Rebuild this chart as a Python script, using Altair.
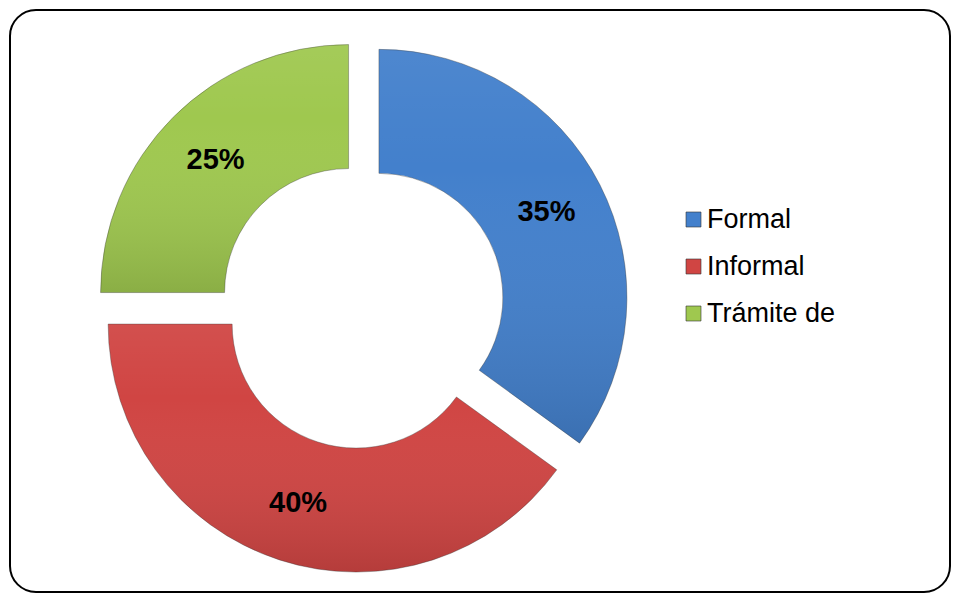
import altair as alt
import pandas as pd

# ---- data ----
categories = ["Formal", "Informal", "Trámite de"]
values = [35, 40, 25]
labels = ["35%", "40%", "25%"]
order = [0, 1, 2]
colors = ["#4380cc", "#d04543", "#9fc84f"]

df = pd.DataFrame({"cat": categories, "value": values, "label": labels, "order": order})

# ---- layout constants (pixels in the view) ----
CX, CY, D = 352, 296, 19          # pie centre and explode distance
R_OUT, R_IN, R_LAB = 248, 124, 188

base = (
    alt.Chart(df)
    .transform_window(cum="sum(value)", sort=[alt.SortField("order")], frame=[None, 0])
    .transform_joinaggregate(total="sum(value)")
    .transform_calculate(
        t1="2*PI*(datum.cum - datum.value)/datum.total",
        t2="2*PI*datum.cum/datum.total",
    )
    .transform_calculate(mid="(datum.t1 + datum.t2)/2")
    .transform_calculate(
        cx=f"{CX} + {D}*sin(datum.mid)",
        cy=f"{CY} - {D}*cos(datum.mid)",
        lx=f"{CX} + {D + R_LAB}*sin(datum.mid)",
        ly=f"{CY} - {D + R_LAB}*cos(datum.mid)",
    )
)

enc = dict(
    x=alt.X("cx:Q", scale=None, axis=None),
    y=alt.Y("cy:Q", scale=None, axis=None),
    theta=alt.Theta("t1:Q", scale=None, stack=None),
    theta2="t2:Q",
)

arcs = base.mark_arc(
    radius=R_OUT, radius2=R_IN, stroke="#333333", strokeWidth=0.8, strokeOpacity=0.45
).encode(
    color=alt.Color(
        "cat:N",
        scale=alt.Scale(domain=categories, range=colors),
        sort=categories,
        legend=alt.Legend(
            title=None,
            orient="none",
            legendX=670,
            legendY=196,
            symbolType="square",
            symbolSize=225,
            symbolStrokeWidth=0.6,
            symbolStrokeColor="#333333",
            labelFontSize=27,
            labelFont="Liberation Sans",
            labelColor="black",
            labelOffset=0,
            rowPadding=19,
            labelLimit=300,
        ),
    ),
    **enc,
)

shade = base.mark_arc(
    radius=R_OUT,
    radius2=R_IN,
    fill=alt.LinearGradient(
        gradient="linear",
        stops=[
            alt.GradientStop(color="rgba(255,255,255,0.06)", offset=0),
            alt.GradientStop(color="rgba(255,255,255,0.0)", offset=0.3),
            alt.GradientStop(color="rgba(0,0,0,0.13)", offset=1),
        ],
        x1=0, y1=0, x2=0, y2=1,
    ),
).encode(**enc)

text = base.mark_text(
    fontSize=29, fontWeight="bold", font="Liberation Sans", color="black", align="center", baseline="middle"
).encode(
    x=alt.X("lx:Q", scale=None, axis=None),
    y=alt.Y("ly:Q", scale=None, axis=None),
    text="label:N",
)

chart = (
    alt.layer(arcs, shade, text)
    .properties(
        width=940,
        height=582,
        background="white",
        autosize=alt.AutoSizeParams(type="none"),
        padding={"left": 2, "top": 2, "right": 1, "bottom": 1},
    )
    .configure_view(stroke="black", strokeWidth=2, cornerRadius=26, fill="white")
)

chart.save("out.html", embed_options={"renderer": "svg", "actions": False})
